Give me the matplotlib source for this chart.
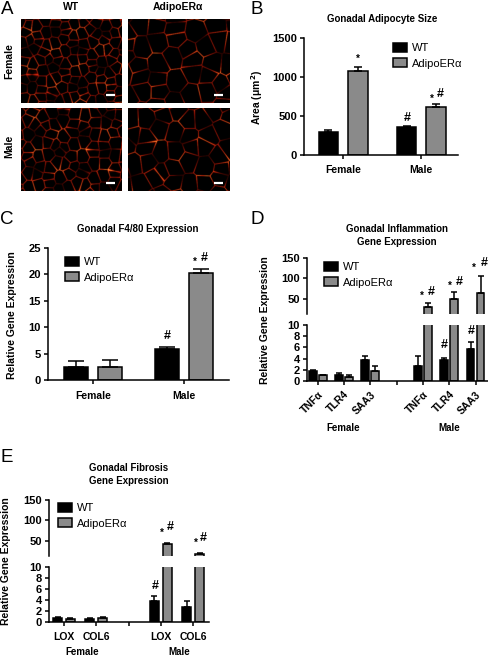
import numpy as np
import matplotlib
matplotlib.use("Agg")
import matplotlib.pyplot as plt
from matplotlib.colors import LinearSegmentedColormap

plt.rcParams["font.family"] = ["Liberation Sans", "DejaVu Sans"]
plt.rcParams["font.weight"] = "bold"
plt.rcParams["axes.linewidth"] = 1.1

W, H = 489, 660
GRAY = "#8a8a8a"

# panel B
b_groups = ["Female", "Male"]
b_wt = [300, 360]
b_wt_err = [15, 15]
b_ko = [1080, 615]
b_ko_err = [45, 40]

# panel C
c_groups = ["Female", "Male"]
c_wt = [2.4, 5.8]
c_wt_err = [1.2, 0.5]
c_ko = [2.4, 20.2]
c_ko_err = [1.3, 0.9]

# panel D (blank slot between female and male)
d_genes = ["TNF\u03b1", "TLR4", "SAA3", "", "TNF\u03b1", "TLR4", "SAA3"]
d_wt = [1.8, 1.1, 3.7, 0, 2.7, 3.7, 5.7]
d_wt_err = [0.1, 0.3, 0.8, 0, 1.7, 0.4, 1.2]
d_ko = [1.0, 0.8, 1.7, 0, 29, 50, 65]
d_ko_err = [0.1, 0.3, 1.0, 0, 11, 17, 42]

# panel E
e_genes = ["LOX", "COL6", "", "LOX", "COL6"]
e_wt = [0.8, 0.6, 0, 3.8, 2.7]
e_wt_err = [0.05, 0.05, 0, 1.0, 1.1]
e_ko = [0.6, 0.8, 0, 42, 19]
e_ko_err = [0.05, 0.05, 0, 3, 2]


def axes_px(fig, x0, y0, x1, y1):
    """Axes from pixel box, y measured from the top of the picture."""
    return fig.add_axes([x0 / W, 1 - y1 / H, (x1 - x0) / W, (y1 - y0) / H])


def fig_text(fig, x, y, s, **kw):
    kw.setdefault("ha", "center")
    kw.setdefault("va", "center")
    fig.text(x / W, 1 - y / H, s, **kw)


def draw_bars(ax, wt, wt_err, ko, ko_err, offset, width, capsize, lw=1.1):
    x = np.arange(len(wt))
    for xs, vals, errs, color in ((x - offset, wt, wt_err, "black"), (x + offset, ko, ko_err, GRAY)):
        keep = np.array(vals) > 0
        ax.bar(xs[keep], np.array(vals)[keep], width, color=color, edgecolor="black", linewidth=lw,
               label="WT" if color == "black" else "AdipoER\u03b1")
        ax.errorbar(xs[keep], np.array(vals)[keep], yerr=[np.zeros(keep.sum()), np.array(errs)[keep]],
                    fmt="none", ecolor="black", elinewidth=1.1, capsize=capsize, capthick=1.1)


def clean(ax):
    ax.spines["top"].set_visible(False)
    ax.spines["right"].set_visible(False)
    ax.tick_params(axis="both", width=1.1, length=3, labelsize=8, pad=2)


def add_legend(fig, ax, x, y, fs=8):
    handles, labels = ax.get_legend_handles_labels()
    bars = [h for h, l in zip(handles, labels)]
    fig.legend(bars, labels, loc="upper left", bbox_to_anchor=(x / W, 1 - y / H), frameon=False,
               prop={"size": fs, "weight": "normal"}, handlelength=1.3, handleheight=0.85,
               handletextpad=0.45, labelspacing=0.45, borderpad=0, borderaxespad=0)


def micrograph(fig, box, nx, ny, phase, bar):
    """Cell-wall style texture: edges between neighbouring lattice cells."""
    x0, y0, x1, y1 = box
    ax = axes_px(fig, x0, y0, x1, y1)
    w, h = (x1 - x0) * 3, (y1 - y0) * 3
    gx, gy = np.meshgrid(np.arange(nx + 2), np.arange(ny + 2))
    jx = 0.33 * np.sin(12.9898 * gx + 78.233 * gy + phase) + 0.12 * np.sin(5.1 * gy * gx + phase)
    jy = 0.33 * np.sin(39.346 * gx + 11.135 * gy + 2 * phase) + 0.12 * np.cos(3.7 * gx - gy)
    sx = ((gx - 0.5 + jx + 0.5 * (gy % 2)) / nx * w).ravel()
    sy = ((gy - 0.5 + jy) / ny * h).ravel()
    px, py = np.meshgrid(np.arange(w), np.arange(h))
    dist = np.sqrt((px[..., None] - sx) ** 2 + (py[..., None] - sy) ** 2)
    dist.sort(axis=2)
    edge = np.exp(-(dist[..., 1] - dist[..., 0]) / 1.6)
    glow = 0.62 + 0.38 * np.sin(px / 23.0 + phase) * np.sin(py / 17.0 - phase)
    ax.imshow(edge * glow, cmap=CELL_CMAP, vmin=0, vmax=1, aspect="auto", interpolation="bilinear")
    ax.plot([w - bar * 3 - 22, w - 22], [h - 24, h - 24], color="white", lw=1.6, solid_capstyle="butt")
    ax.set_xlim(0, w)
    ax.set_ylim(h, 0)
    ax.axis("off")


CELL_CMAP = LinearSegmentedColormap.from_list(
    "cells", ["#000000", "#3a0500", "#b01408", "#f03a10", "#ffb030", "#ffe860"])

fig = plt.figure(figsize=(W / 100, H / 100), dpi=100)

# panel letters
for letter, x, y in (("A", 7, 10), ("B", 257, 9), ("C", 7, 219), ("D", 257, 219), ("E", 7, 457)):
    fig_text(fig, x, y, letter, fontsize=13.5, fontweight="normal")

# A: micrographs
micrograph(fig, (21, 19, 122, 103), 11, 9, 0.4, 9)
micrograph(fig, (128, 19, 230, 103), 6, 5, 1.7, 9)
micrograph(fig, (21, 108, 122, 191), 10, 8, 2.9, 9)
micrograph(fig, (128, 108, 230, 191), 7, 5, 4.1, 9)
fig_text(fig, 71, 7, "WT", fontsize=7.5)
fig_text(fig, 178, 7, "AdipoER\u03b1", fontsize=7.5)
fig_text(fig, 9, 61, "Female", fontsize=7.5, rotation=90)
fig_text(fig, 9, 146, "Male", fontsize=7.5, rotation=90)

# B
ax = axes_px(fig, 304, 38, 458, 155)
draw_bars(ax, b_wt, b_wt_err, b_ko, b_ko_err, 0.186, 0.256, 2.8)
ax.set_xlim(-0.5, 1.474)
ax.set_ylim(0, 1500)
ax.set_yticks([0, 500, 1000, 1500])
ax.set_xticks(range(len(b_groups)), b_groups)
clean(ax)
ax.tick_params(axis="x", labelsize=7.5, pad=4)
add_legend(fig, ax, 393, 43)
fig_text(fig, 382, 19, "Gonadal Adipocyte Size", fontsize=7)
fig_text(fig, 257, 97, "Area (\u03bcm$^{\\mathbf{2}}$)", fontsize=7.5, rotation=90)
fig_text(fig, 358, 59, "*", fontsize=7)
fig_text(fig, 407, 118, "#", fontsize=9)
fig_text(fig, 432, 99, "*", fontsize=7)
fig_text(fig, 440, 94, "#", fontsize=9)

# C
ax = axes_px(fig, 48, 248, 229, 380)
draw_bars(ax, c_wt, c_wt_err, c_ko, c_ko_err, 0.187, 0.264, 5.5)
ax.set_xlim(-0.495, 1.495)
ax.set_ylim(0, 25)
ax.set_yticks(range(0, 26, 5))
ax.set_xticks(range(len(c_groups)), c_groups)
clean(ax)
ax.tick_params(axis="x", labelsize=7.5, pad=5)
add_legend(fig, ax, 65, 257)
fig_text(fig, 138, 229, "Gonadal F4/80 Expression", fontsize=7)
fig_text(fig, 12, 315, "Relative Gene Expression", fontsize=7.5, rotation=90)
fig_text(fig, 167, 336, "#", fontsize=9)
fig_text(fig, 195, 262, "*", fontsize=7)
fig_text(fig, 204, 258, "#", fontsize=9)


def broken_axes(box_top, box_low, xlim, top_lim):
    top = axes_px(fig, *box_top)
    low = axes_px(fig, *box_low)
    for a in (top, low):
        clean(a)
        a.set_xlim(*xlim)
    top.spines["bottom"].set_visible(False)
    top.tick_params(axis="x", bottom=False, labelbottom=False)
    top.set_ylim(*top_lim)
    top.set_yticks([50, 100, 150])
    low.set_ylim(0, 10)
    low.set_yticks(range(0, 11, 2))
    top.patch.set_alpha(0)
    low.patch.set_alpha(0)
    return top, low


# D
top, low = broken_axes((307, 258, 488, 314), (307, 325, 488, 381), (-0.407, 6.475), (13, 150))
for a in (top, low):
    draw_bars(a, d_wt, d_wt_err, d_ko, d_ko_err, 0.19, 0.3, 2.2)
    a.set_ylim(a.get_ylim()[0], a.get_ylim()[1])
top.set_ylim(13, 150)
low.set_ylim(0, 10)
low.set_xticks(range(len(d_genes)), d_genes, rotation=45, ha="right", rotation_mode="anchor")
low.tick_params(axis="x", labelsize=7.5, pad=3)
add_legend(fig, top, 324, 262)
fig_text(fig, 397, 229, "Gonadal Inflammation", fontsize=7)
fig_text(fig, 397, 242, "Gene Expression", fontsize=7)
fig_text(fig, 265, 320, "Relative Gene Expression", fontsize=7.5, rotation=90)
fig_text(fig, 343, 428, "Female", fontsize=7)
fig_text(fig, 449, 428, "Male", fontsize=7)
for x, y, s in ((422, 296, "*"), (431, 292, "#"), (450, 286, "*"), (459, 282, "#"), (474, 268, "*"), (484, 263, "#"),
                (444, 345, "#"), (471, 331, "#")):
    fig_text(fig, x, y, s, fontsize=7 if s == "*" else 9)

# E
top, low = broken_axes((49, 500, 209, 556), (49, 567, 209, 622), (-0.464, 4.49), (13.4, 150))
for a in (top, low):
    draw_bars(a, e_wt, e_wt_err, e_ko, e_ko_err, 0.2, 0.28, 2.2)
top.set_ylim(13.4, 150)
low.set_ylim(0, 10)
low.set_xticks(range(len(e_genes)), e_genes)
low.tick_params(axis="x", labelsize=7.5, pad=4)
add_legend(fig, top, 58, 503)
fig_text(fig, 129, 468, "Gonadal Fibrosis", fontsize=7)
fig_text(fig, 129, 481, "Gene Expression", fontsize=7)
fig_text(fig, 6, 561, "Relative Gene Expression", fontsize=7.5, rotation=90)
fig_text(fig, 82, 652, "Female", fontsize=7)
fig_text(fig, 179, 652, "Male", fontsize=7)
for x, y, s in ((162, 533, "*"), (170, 527, "#"), (196, 543, "*"), (203, 538, "#"), (155, 586, "#")):
    fig_text(fig, x, y, s, fontsize=7 if s == "*" else 9)

fig.savefig("out.png", dpi=100)
